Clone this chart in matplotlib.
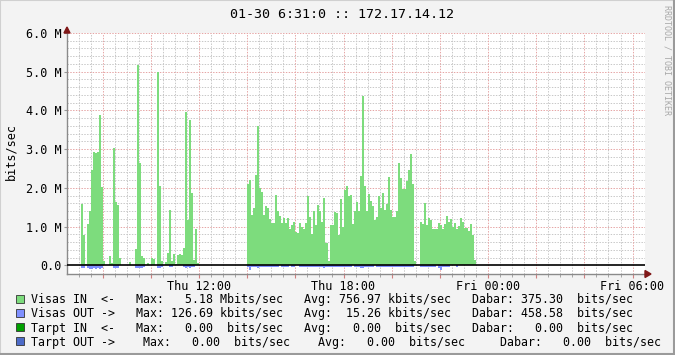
import numpy as np
import matplotlib
matplotlib.use("Agg")
import matplotlib.pyplot as plt
import matplotlib.patches as patches
from matplotlib.lines import Line2D
from matplotlib.ticker import FixedLocator

# --- data: 5 minute samples starting Thu 06:30, values in Mbit/s ---
step_hours = 5 / 60.0
start_hour = 6.5            # hours since Thu 00:00
view_start = 6.5167         # 06:31
view_end = view_start + 24

visas_in = [
    0, 0, 0, 0, 0, 0, 0, 1.59, 0.78, 0.03,
    1.07, 1.40, 2.47, 2.93, 2.91, 2.93, 3.89, 2.02, 0.10, 0,
    0, 0.24, 0.07, 3.03, 1.64, 1.55, 0.20, 0, 0, 0,
    0, 0.08, 0, 0, 0.42, 5.18, 2.64, 0.24, 0.20, 0,
    0.05, 0, 0.20, 0.17, 0, 5.00, 2.05, 0.10, 0, 0.08,
    0.31, 1.43, 0.10, 0.29, 0.03, 0.26, 0.29, 0.27, 0.45, 3.97,
    1.17, 3.76, 1.88, 0.14, 0.93, 0.07, 0, 0, 0, 0,
    0, 0, 0, 0, 0, 0, 0, 0, 0, 0,
    0, 0, 0, 0, 0, 0, 0, 0, 0, 0,
    2.11, 2.20, 1.30, 1.48, 2.32, 3.59, 2.00, 1.90, 1.30, 1.53,
    1.49, 1.19, 1.09, 1.09, 1.81, 1.40, 1.27, 1.09, 1.22, 1.09,
    1.22, 0.93, 1.04, 1.12, 0.86, 0.83, 1.09, 0.99, 0.95, 1.10,
    1.79, 1.25, 0.80, 1.41, 1.04, 1.55, 1.40, 1.13, 1.74, 0.58,
    0.11, 1.03, 1.03, 1.37, 1.34, 0.77, 1.70, 0.98, 1.94, 2.06,
    1.79, 1.81, 1.07, 1.39, 1.63, 1.39, 2.30, 4.36, 2.04, 1.39,
    1.84, 1.65, 1.53, 1.17, 1.24, 1.80, 1.49, 1.86, 1.43, 1.58,
    2.27, 1.44, 1.25, 1.25, 1.40, 2.63, 2.25, 1.98, 1.96, 2.18,
    2.46, 2.87, 2.10, 0.12, 0, 0, 1.12, 1.06, 1.60, 1.05,
    1.22, 1.17, 0.93, 0.93, 0.95, 1.08, 1.05, 0.95, 1.07, 1.27,
    1.13, 1.19, 1.00, 1.08, 0.95, 1.01, 1.22, 1.12, 0.96, 0.96,
    0.89, 1.07, 0.79, 0.14, 0, 0, 0, 0, 0, 0,
    0, 0, 0, 0, 0, 0, 0, 0, 0, 0,
    0.02, 0, 0, 0, 0, 0, 0, 0, 0, 0,
] + [0] * 58

visas_out = [
    0, 0, 0, 0, 0, 0, 0, 0.06, 0.06, 0,
    0.08, 0.09, 0.09, 0.08, 0.09, 0.08, 0.09, 0.06, 0, 0,
    0, 0, 0, 0.08, 0.08, 0.06, 0, 0, 0, 0,
    0, 0, 0, 0, 0.06, 0.08, 0.07, 0.06, 0.05, 0,
    0, 0, 0, 0, 0, 0.07, 0.08, 0.05, 0, 0,
    0, 0.05, 0.05, 0, 0, 0, 0, 0, 0.05, 0.07,
    0.05, 0.07, 0.05, 0.05, 0, 0, 0, 0, 0, 0,
    0, 0, 0, 0, 0, 0, 0, 0, 0, 0,
    0, 0, 0, 0, 0, 0, 0, 0, 0, 0,
    0.05, 0.127, 0.05, 0.05, 0.05, 0.08, 0.05, 0.05, 0.05, 0.05,
    0.05, 0.05, 0.05, 0.05, 0.05, 0.05, 0, 0.05, 0.05, 0.05,
    0.05, 0, 0.05, 0.05, 0, 0, 0.05, 0.05, 0.05, 0.05,
    0.05, 0.05, 0.05, 0.05, 0.05, 0.05, 0.05, 0.05, 0.06, 0.05,
    0.05, 0.05, 0.05, 0.05, 0.05, 0.05, 0.05, 0.05, 0.05, 0.05,
    0.05, 0.05, 0, 0.05, 0.05, 0.05, 0.06, 0.06, 0.05, 0.05,
    0.05, 0.05, 0.05, 0, 0.05, 0.05, 0.05, 0.05, 0.05, 0.05,
    0.05, 0.05, 0.05, 0.05, 0.05, 0.05, 0.05, 0.05, 0.05, 0.05,
    0.05, 0.05, 0.05, 0, 0, 0, 0.05, 0.05, 0.05, 0.05,
    0.05, 0.05, 0.05, 0.05, 0, 0.06, 0.11, 0.05, 0.05, 0.05,
    0.05, 0, 0, 0, 0.05, 0, 0, 0, 0, 0,
] + [0] * 88

hour_labels = {12: "Thu 12:00", 18: "Thu 18:00", 24: "Fri 00:00", 30: "Fri 06:00"}
y_labels = ["0.0", "1.0 M", "2.0 M", "3.0 M", "4.0 M", "5.0 M", "6.0 M"]

title = "01-30 6:31:0 :: 172.17.14.12"
legend_rows = [
    ("#7ddc7d", "Visas IN  <-   Max:   5.18 Mbits/sec   Avg: 756.97 kbits/sec   Dabar: 375.30  bits/sec"),
    ("#8090ff", "Visas OUT ->   Max: 126.69 kbits/sec   Avg:  15.26 kbits/sec   Dabar: 458.58  bits/sec"),
    ("#00a000", "Tarpt IN  <-   Max:   0.00  bits/sec   Avg:   0.00  bits/sec   Dabar:   0.00  bits/sec"),
    ("#4d6bc8", "Tarpt OUT ->    Max:   0.00  bits/sec    Avg:   0.00  bits/sec     Dabar:   0.00  bits/sec"),
]

W, H = 675, 355
MONO = "DejaVu Sans Mono"
def fx(px):
    return px / W
def fy(py):
    return 1 - py / H

fig = plt.figure(figsize=(W / 100, H / 100), dpi=100, facecolor="#f3f3f3")
ax = fig.add_axes([fx(67), fy(274), fx(645) - fx(67), fy(33) - fy(274)])
ax.set_facecolor("white")

edges = start_hour + np.arange(len(visas_in)) * step_hours
ax.bar(edges, visas_in, width=step_hours, align="edge", color="#7ddc7d",
       linewidth=0, antialiased=False, zorder=2)
ax.bar(edges, -np.array(visas_out), width=step_hours, align="edge", color="#8090ff",
       linewidth=0, antialiased=False, zorder=2)
ax.axhline(0, color="black", lw=1.2, zorder=4)

ax.set_xlim(view_start, view_end)
ax.set_ylim(-0.225, 6.0)

# grid: majors every 2h / 1M (red), minors every 30 min / 0.2M (gray)
x_major = list(range(8, 31, 2))
x_minor = [h / 2 for h in range(14, 61) if h % 4 != 0]
ax.xaxis.set_major_locator(FixedLocator(x_major))
ax.xaxis.set_minor_locator(FixedLocator(x_minor))
ax.set_xticklabels([hour_labels.get(h, "") for h in x_major])
y_major = list(range(0, 7))
y_minor = [v / 5 for v in range(1, 30) if v % 5 != 0]
ax.yaxis.set_major_locator(FixedLocator(y_major))
ax.yaxis.set_minor_locator(FixedLocator(y_minor))
ax.set_yticklabels(y_labels)

dot = (0, (1.4, 1.4))
for v in x_minor:
    ax.axvline(v, color="#c8c8c8", lw=0.72, linestyle=dot, zorder=1)
for v in y_minor:
    ax.axhline(v, color="#c8c8c8", lw=0.72, linestyle=dot, zorder=1)
for v in x_major:
    ax.axvline(v, color="#e6a6a6", lw=0.72, linestyle=dot, zorder=1)
for v in y_major[1:]:
    ax.axhline(v, color="#e6a6a6", lw=0.72, linestyle=dot, zorder=1)

ax.tick_params(which="both", direction="out", labelsize=8.45, pad=2)
ax.tick_params(axis="x", which="major", length=3, color="#d08080", pad=1.5)
ax.tick_params(axis="x", which="minor", length=2, color="#999999")
ax.tick_params(axis="y", which="major", length=2, color="#999999")
ax.tick_params(axis="y", which="minor", length=0)
for lab in ax.get_xticklabels() + ax.get_yticklabels():
    lab.set_family(MONO)

for side in ("top", "right"):
    ax.spines[side].set_visible(False)
for side in ("left", "bottom"):
    ax.spines[side].set_color("#8a8a8a")
    ax.spines[side].set_linewidth(1)

# axis arrows
fig.patches.append(patches.Polygon([(fx(64), fy(33)), (fx(70), fy(33)), (fx(67), fy(27))],
                                   closed=True, color="#801818", transform=fig.transFigure))
fig.patches.append(patches.Polygon([(fx(645), fy(270.5)), (fx(645), fy(277.5)), (fx(651), fy(274))],
                                   closed=True, color="#801818", transform=fig.transFigure))

fig.text(fx(341.5), fy(18.3), title, family=MONO, fontsize=9.6, ha="center", va="baseline")
fig.text(fx(11), fy(152), "bits/sec", family=MONO, fontsize=8.45, rotation=90,
         ha="center", va="center")
fig.text(fx(667), fy(5), "RRDTOOL / TOBI OETIKER", family=MONO, fontsize=6,
         rotation=270, ha="center", va="top", color="#a8a8a8")

baselines = [303.3, 317.5, 331.6, 345.7]
for (color, text), base in zip(legend_rows, baselines):
    fig.patches.append(patches.Rectangle((fx(15.5), fy(base - 0.5)), fx(8), fy(0) - fy(8),
                                         facecolor=color, edgecolor="#333333", lw=0.6,
                                         transform=fig.transFigure))
    fig.text(fx(30.7), fy(base), text, family=MONO, fontsize=8.4, ha="left", va="baseline")

# 3d frame around the canvas
frame = [((0, 0), (0, H), "#d0d0d0"), ((0, W), (0, 0), "#d0d0d0"),
         ((W - 1, W - 1), (0, H), "#9a9a9a"), ((0, W), (H - 1, H - 1), "#9a9a9a")]
for xs, ys, c in frame:
    fig.lines.append(Line2D([fx(v) for v in xs], [fy(v) for v in ys], color=c, lw=1.5,
                            transform=fig.transFigure))

fig.savefig("out.png", dpi=100, facecolor=fig.get_facecolor())
